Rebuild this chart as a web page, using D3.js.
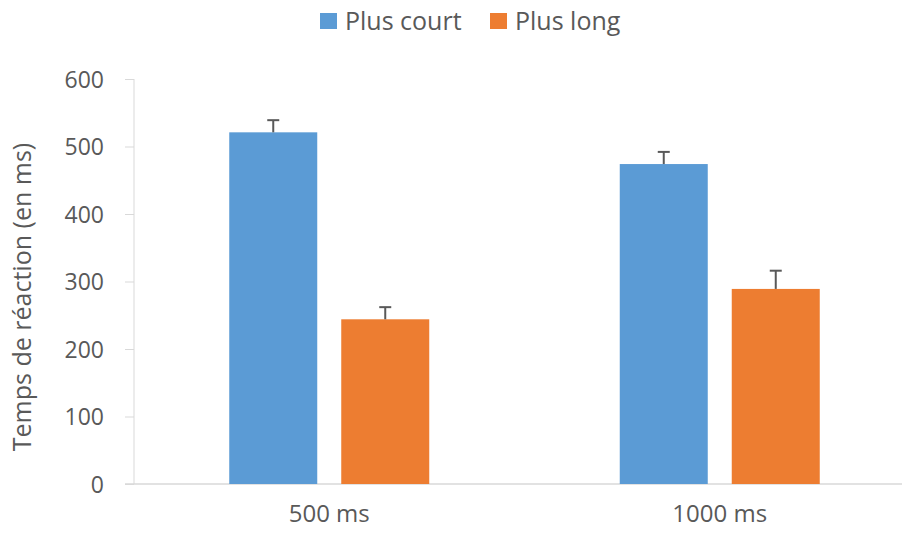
<!DOCTYPE html>
<html><head><meta charset="utf-8">
<script src="https://cdn.jsdelivr.net/npm/d3@7"></script>
<style>body{margin:0;background:#fff}svg{display:block}text{font-family:"Open Sans",sans-serif;fill:#595959}</style>
</head><body><svg id="c" width="902" height="533"></svg>
<script>
const categories = ["500 ms", "1000 ms"];
const seriesNames = ["Plus court", "Plus long"];
const plusCourt = [521, 474];
const plusLong = [244, 289];
const errCourt = [18, 18];
const errLong = [18, 27];
const yTicks = [0, 100, 200, 300, 400, 500, 600];
const colors = ["#5b9bd5", "#ed7d31"];

const svg = d3.select("#c");
const x0 = d3.scaleBand().domain(categories).range([134, 915]).paddingInner(0).paddingOuter(0);
const y = d3.scaleLinear().domain([0, 600]).range([484, 79]);
const barW = 88, innerGap = 24;

// axes
const yAxis = d3.axisLeft(y).tickValues(yTicks).tickSize(9).tickPadding(21);
const gy = svg.append("g").attr("transform","translate(134,0)").call(yAxis);
gy.selectAll("path,line").attr("stroke","#d9d9d9").attr("stroke-width",1);
gy.select(".domain").attr("d","M0,79V484");
gy.selectAll("text").style("font-size","23px").attr("fill","#595959").attr("dy","0.35em");

svg.append("line").attr("x1",125).attr("x2",902).attr("y1",y(0)).attr("y2",y(0)).attr("stroke","#d9d9d9").attr("stroke-width",1.5);

const data = categories.map((c,i)=>({c, vals:[{s:seriesNames[0],v:plusCourt[i],e:errCourt[i]},{s:seriesNames[1],v:plusLong[i],e:errLong[i]}]}));
const g = svg.append("g");
data.forEach(d=>{
  const cx = x0(d.c) + x0.bandwidth()/2;
  d.vals.forEach((b,j)=>{
    const left = j===0 ? cx - innerGap/2 - barW : cx + innerGap/2;
    g.append("rect").attr("x",left).attr("y",y(b.v)).attr("width",barW).attr("height",y(0)-y(b.v)).attr("fill",colors[j]);
    const mx = left + barW/2;
    g.append("line").attr("x1",mx).attr("x2",mx).attr("y1",y(b.v)).attr("y2",y(b.v+b.e)).attr("stroke","#595959").attr("stroke-width",2);
    g.append("line").attr("x1",mx-6).attr("x2",mx+6).attr("y1",y(b.v+b.e)).attr("y2",y(b.v+b.e)).attr("stroke","#595959").attr("stroke-width",2);
  });
  svg.append("text").attr("x",cx).attr("y",514).attr("text-anchor","middle").attr("dy","0.35em").style("font-size","24px").text(d.c);
});

svg.append("text").attr("transform","translate(22,297) rotate(-90)").attr("text-anchor","middle").attr("dy","0.35em").style("font-size","25px").text("Temps de réaction (en ms)");

// legend
const leg = [{x:320,tx:345},{x:490,tx:515}];
seriesNames.forEach((s,i)=>{
  svg.append("rect").attr("x",leg[i].x).attr("y",13).attr("width",17).attr("height",16).attr("fill",colors[i]);
  svg.append("text").attr("x",leg[i].tx).attr("y",21).attr("dy","0.35em").style("font-size","25px").text(s);
});
</script></body></html>
